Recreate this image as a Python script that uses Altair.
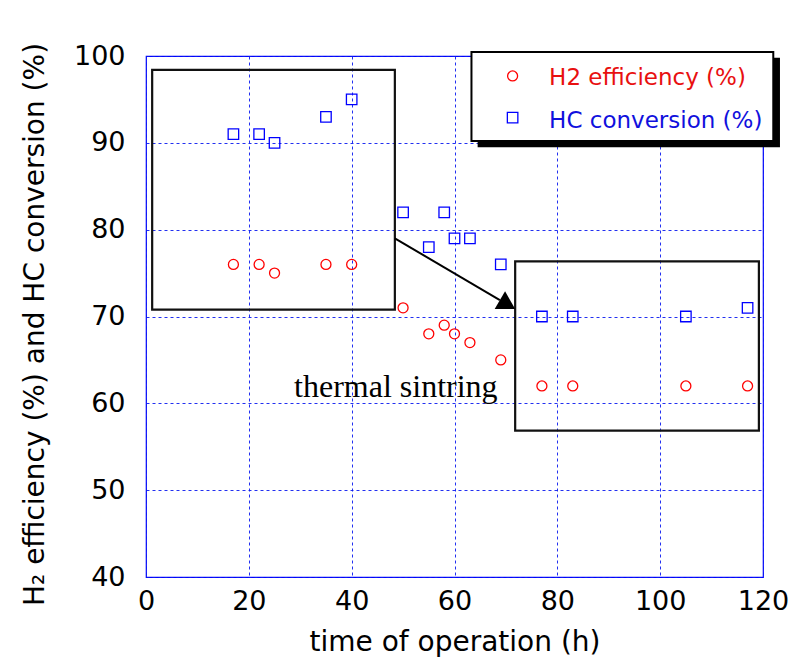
import math
import altair as alt
import pandas as pd

# ---- data ----
time_h = [17, 22, 25, 35, 40, 50, 55, 58, 60, 63, 69, 77, 83, 105, 117]
h2_eff = [76, 76, 75, 76, 76, 71, 68, 69, 68, 67, 65, 62, 62, 62, 62]
hc_conv = [91, 91, 90, 93, 95, 82, 78, 82, 79, 79, 76, 70, 70, 70, 71]

x_ticks = [0, 20, 40, 60, 80, 100, 120]
y_ticks = [40, 50, 60, 70, 80, 90, 100]

series_names = ["H2 efficiency (%)", "HC conversion (%)"]
annotation_text = "thermal sintring"

# ---- layout ----
W, H = 617, 521
X_DOM = [0, 120]
Y_DOM = [40, 100]
px_x = W / (X_DOM[1] - X_DOM[0])
px_y = H / (Y_DOM[1] - Y_DOM[0])

RED = "#ff0000"
RED_T = "#e81010"
BLUE = "#0000ff"
BLUE_T = "#1010dd"
FONT = "DejaVu Sans"

xs = alt.Scale(domain=X_DOM, nice=False, zero=False)
ys = alt.Scale(domain=Y_DOM, nice=False, zero=False)

df = pd.DataFrame({"t": time_h, "h2": h2_eff, "hc": hc_conv})

x_axis = alt.Axis(values=x_ticks, title="time of operation (h)", grid=True,
                  ticks=False, domain=False, labelPadding=11, labelFlush=False,
                  titleY=73, titleBaseline="alphabetic")
y_axis = alt.Axis(values=y_ticks, title="H₂ efficiency (%) and HC conversion (%)",
                  grid=True, ticks=False, domain=False, labelPadding=21,
                  labelFlush=False,
                  titleAngle=270, titleX=-103, titleY=268,
                  titleBaseline="alphabetic", titleAlign="center")

base = alt.Chart(df)

h2_pts = base.mark_point(shape="circle", filled=False, color=RED, size=100,
                         strokeWidth=1.3, opacity=1).encode(
    x=alt.X("t:Q", scale=xs, axis=x_axis),
    y=alt.Y("h2:Q", scale=ys, axis=y_axis),
)
hc_pts = base.mark_point(shape="square", filled=False, color=BLUE, size=110,
                         strokeWidth=1.3, opacity=1).encode(
    x=alt.X("t:Q", scale=xs),
    y=alt.Y("hc:Q", scale=ys),
)

# ---- annotation boxes ----
boxes = pd.DataFrame({"x1": [1.2, 71.8], "x2": [48.4, 119.2],
                      "y1": [98.4, 76.35], "y2": [70.8, 56.85]})
box_layer = alt.Chart(boxes).mark_rect(fill=None, stroke="#111111",
                                        strokeWidth=2.2).encode(
    x=alt.X("x1:Q", scale=xs), x2="x2:Q",
    y=alt.Y("y1:Q", scale=ys), y2="y2:Q")

# ---- arrow ----
sx, sy = 48.4, 79.0
tx, ty = 71.8, 70.85
dxp = (tx - sx) * px_x
dyp = (sy - ty) * px_y  # pixel downward
L = math.hypot(dxp, dyp)
ux, uy = dxp / L, dyp / L
ang = math.degrees(math.atan2(dyp, dxp))
head_size = 420
r = math.sqrt(head_size) / 2
h = math.sqrt(3) / 2 * r
cx = tx - ux * h / px_x
cy = ty + uy * h / px_y
bx = tx - ux * 2 * h / px_x
by = ty + uy * 2 * h / px_y

arrow_line = alt.Chart(pd.DataFrame({"x": [sx], "y": [sy], "x2": [bx], "y2": [by]})).mark_rule(
    color="black", strokeWidth=2).encode(
    x=alt.X("x:Q", scale=xs), y=alt.Y("y:Q", scale=ys), x2="x2:Q", y2="y2:Q")
arrow_head = alt.Chart(pd.DataFrame({"x": [cx], "y": [cy]})).mark_point(
    shape="triangle-right", filled=True, color="black", opacity=1,
    size=head_size, angle=ang).encode(
    x=alt.X("x:Q", scale=xs), y=alt.Y("y:Q", scale=ys))

label = alt.Chart(pd.DataFrame({"x": [28.8], "y": [60.7], "txt": [annotation_text]})).mark_text(
    font="Liberation Serif", fontSize=32, align="left", baseline="alphabetic",
    color="black").encode(
    x=alt.X("x:Q", scale=xs), y=alt.Y("y:Q", scale=ys), text="txt:N")

# ---- manual legend ----
leg_shadow = alt.Chart(pd.DataFrame({"x1": [64.5], "x2": [123.3], "y1": [99.8], "y2": [89.5]})).mark_rect(
    fill="black", stroke=None).encode(
    x=alt.X("x1:Q", scale=xs), x2="x2:Q", y=alt.Y("y1:Q", scale=ys), y2="y2:Q")
leg_box = alt.Chart(pd.DataFrame({"x1": [63.3], "x2": [122.0], "y1": [100.45], "y2": [90.2]})).mark_rect(
    fill="white", stroke="black", strokeWidth=2).encode(
    x=alt.X("x1:Q", scale=xs), x2="x2:Q", y=alt.Y("y1:Q", scale=ys), y2="y2:Q")
leg_c = alt.Chart(pd.DataFrame({"x": [71.3], "y": [97.7]})).mark_point(
    shape="circle", filled=False, color=RED, size=100, strokeWidth=1.3, opacity=1).encode(
    x=alt.X("x:Q", scale=xs), y=alt.Y("y:Q", scale=ys))
leg_s = alt.Chart(pd.DataFrame({"x": [71.3], "y": [92.9]})).mark_point(
    shape="square", filled=False, color=BLUE, size=110, strokeWidth=1.3, opacity=1).encode(
    x=alt.X("x:Q", scale=xs), y=alt.Y("y:Q", scale=ys))
leg_txt = alt.Chart(pd.DataFrame({"x": [78.4, 78.4], "y": [96.66, 91.74],
                                  "txt": series_names, "col": [RED_T, BLUE_T]})).mark_text(
    font=FONT, fontSize=23, align="left", baseline="alphabetic").encode(
    x=alt.X("x:Q", scale=xs), y=alt.Y("y:Q", scale=ys), text="txt:N",
    color=alt.Color("col:N", scale=None))

chart = alt.layer(
    h2_pts, hc_pts, box_layer, arrow_line, arrow_head, label,
    leg_shadow, leg_box, leg_c, leg_s, leg_txt,
).properties(
    width=W, height=H,
    autosize=alt.AutoSizeParams(type="none"),
    padding={"left": 146, "top": 56, "right": 27, "bottom": 82},
    background="white",
).configure_view(
    stroke=BLUE, strokeWidth=1.2
).configure_axis(
    gridColor="#0a1af0", gridDash=[3, 3], gridWidth=1, gridOpacity=0.9,
    labelFont=FONT, labelFontSize=27, labelColor="black",
    titleFont=FONT, titleFontSize=28, titleFontWeight="normal", titleColor="black",
)

chart.save("out.html", embed_options={"renderer": "svg", "actions": False})
